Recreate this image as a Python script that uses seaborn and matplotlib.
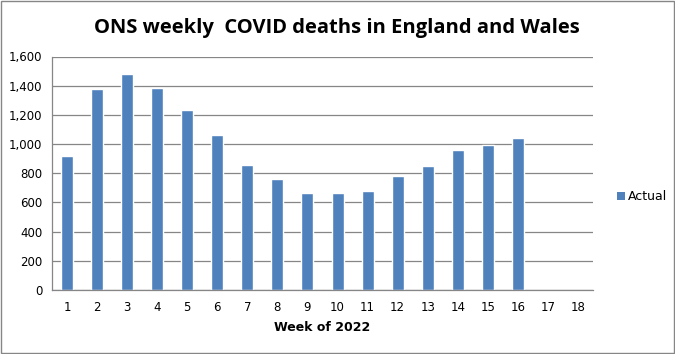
import numpy as np
import pandas as pd
import matplotlib
matplotlib.use('Agg')
import matplotlib.pyplot as plt
import seaborn as sns
from matplotlib.patches import Patch, Rectangle
from matplotlib.ticker import FuncFormatter

# weeks shown on the axis (17 and 18 have no data yet)
weeks = [str(w) for w in range(1, 19)]
data_weeks = [str(w) for w in range(1, 17)]
# ONS weekly covid deaths
deaths = [918, 1375, 1480, 1384, 1233, 1060, 857, 761, 665, 665,
          679, 781, 850, 959, 997, 1042]

df = pd.DataFrame({'Week': data_weeks, 'Actual': deaths})

sns.set_style('white')
plt.rcParams['font.family'] = ['DejaVu Sans']
plt.rcParams['text.color'] = 'black'
plt.rcParams['axes.labelcolor'] = 'black'

fig = plt.figure(figsize=(6.75, 3.54), dpi=100)
ax = fig.add_axes([52/675, 1-290/354, (593-52)/675, (290-56.5)/354])

bar_color = '#4F81BD'
sns.barplot(data=df, x='Week', y='Actual', order=weeks, color=bar_color,
            width=0.4, saturation=1, ax=ax)

ax.set_ylim(0, 1600)
ax.set_xlim(-0.5, 17.5)
ax.set_yticks(range(0, 1601, 200))
ax.yaxis.set_major_formatter(FuncFormatter(lambda v, p: f'{int(v):,}'))
ax.yaxis.grid(True, color='#868686', linewidth=0.9)
ax.set_axisbelow(True)

for s in ['top', 'right']:
    ax.spines[s].set_visible(False)
for s in ['left', 'bottom']:
    ax.spines[s].set_color('#868686')
    ax.spines[s].set_linewidth(0.9)

# tick marks sit between the categories, like Excel
ax.set_xticks(np.arange(-0.5, 18, 1), minor=True)
ax.tick_params(axis='x', which='major', length=0, pad=8, labelsize=8.5, labelcolor='black')
ax.tick_params(axis='x', which='minor', length=4, color='#868686', width=0.9)
ax.tick_params(axis='y', length=4, color='#868686', width=0.9, labelsize=8.5, pad=3,
               labelcolor='black')

ax.set_xlabel('Week of 2022', fontsize=9, fontweight='bold', labelpad=5, color='black')
ax.set_ylabel('')

fig.text(337/675, 1-28/354, 'ONS weekly  COVID deaths in England and Wales',
         ha='center', va='center', fontsize=14.5, fontweight='bold', family='Open Sans',
         color='black')

handles = [Patch(facecolor=bar_color, edgecolor='none', label='Actual')]
fig.legend(handles=handles, loc='center left', bbox_to_anchor=(612/675, 1-197/354),
           frameon=False, fontsize=9, handlelength=0.6, handleheight=0.6,
           handletextpad=0.3, borderaxespad=0, labelcolor='black')

fig.patches.append(Rectangle((0.001, 0.002), 0.997, 0.995, transform=fig.transFigure,
                             fill=False, edgecolor='#868686', linewidth=1))

fig.savefig('out.png', dpi=100)
